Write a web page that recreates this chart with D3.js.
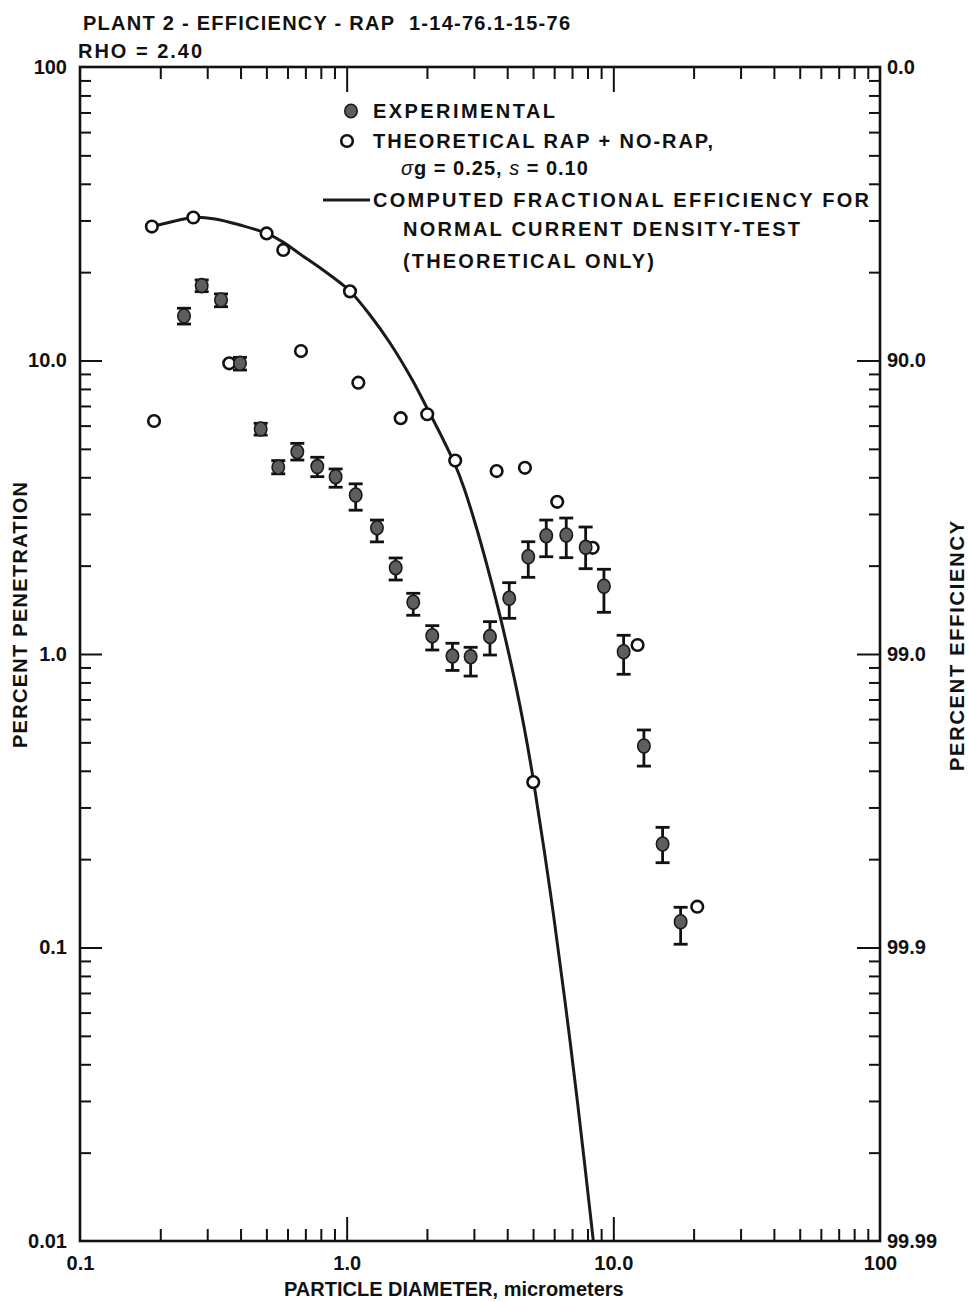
<!DOCTYPE html>
<html>
<head>
<meta charset="utf-8">
<script src="https://cdn.jsdelivr.net/npm/d3@7/dist/d3.min.js"></script>
<style>
  html, body { margin: 0; padding: 0; background: #fff; }
  svg { display: block; }
  text { font-family: "Liberation Sans", Arial, Helvetica, sans-serif; fill: #111; }
  .tick line { stroke: #111; stroke-width: 2; }
  .tick text { font-size: 20px; font-weight: bold; }
</style>
</head>
<body>
<svg id="chart" width="968" height="1302"></svg>
<script>
// Experimental fractional penetration with error limits (percent)
const expDiam = [0.2455, 0.2860, 0.3379, 0.398, 0.4759, 0.554, 0.653, 0.776, 0.909, 1.081,
                 1.299, 1.527, 1.777, 2.094, 2.493, 2.917, 3.446, 4.07, 4.797, 5.603,
                 6.66, 7.873, 9.22, 10.93, 13.02, 15.30, 17.88];
const expPen  = [14.18, 17.99, 16.08, 9.78, 5.84, 4.33, 4.89, 4.35, 4.02, 3.48,
                 2.69, 1.968, 1.50, 1.154, 0.984, 0.979, 1.146, 1.548, 2.145, 2.53,
                 2.544, 2.309, 1.701, 1.018, 0.486, 0.2253, 0.1224];
const expHigh = [15.07, 18.81, 16.86, 10.25, 6.11, 4.56, 5.22, 4.68, 4.27, 3.80,
                 2.86, 2.124, 1.61, 1.249, 1.088, 1.054, 1.289, 1.750, 2.413, 2.86,
                 2.906, 2.708, 1.944, 1.158, 0.551, 0.2567, 0.1371];
const expLow  = [13.31, 17.16, 15.25, 9.28, 5.57, 4.11, 4.58, 4.02, 3.70, 3.09,
                 2.41, 1.787, 1.355, 1.032, 0.879, 0.841, 0.992, 1.323, 1.825, 2.145,
                 2.129, 1.953, 1.387, 0.853, 0.415, 0.1945, 0.1026];

// Theoretical RAP + NO-RAP penetration (percent)
const theoDiam = [0.186, 0.266, 0.501, 0.5785, 1.029, 0.1895, 0.3628, 0.674, 1.106, 1.594,
                  2.005, 2.553, 3.651, 4.661, 6.16, 8.365, 12.33, 20.64, 5.008];
const theoPen  = [28.6, 30.7, 27.1, 23.8, 17.2, 6.22, 9.78, 10.77, 8.40, 6.36,
                  6.56, 4.56, 4.20, 4.31, 3.30, 2.30, 1.073, 0.1377, 0.366];

// Computed fractional efficiency curve, normal current density test
const curveDiam = [0.1862, 0.2271, 0.2653, 0.3208, 0.3981, 0.5012, 0.5770, 0.6683, 0.8152, 0.9578,
                   1.0289, 1.2232, 1.4537, 1.7525, 2.000, 2.257, 2.548, 2.754, 3.081, 3.445,
                   3.693, 3.957, 4.313, 4.621, 4.994, 5.785, 6.583, 7.366, 8.414];
const curvePen  = [28.61, 29.88, 30.71, 30.35, 28.95, 27.13, 25.33, 23.06, 20.34, 18.23,
                   17.25, 14.29, 11.47, 8.662, 6.895, 5.569, 4.423, 3.681, 2.656, 1.840,
                   1.440, 1.106, 0.7773, 0.5680, 0.3799, 0.1575, 0.06594, 0.02886, 0.0100];

// Axis ticks and labels
const xLabelVals = [0.1, 1, 10, 100];
const xLabelText = ["0.1", "1.0", "10.0", "100"];
const xMajor = [1, 10];
const xMinor = [0.2, 0.3, 0.4, 0.5, 0.6, 0.7, 0.8, 0.9, 2, 3, 4, 5, 6, 7, 8, 9,
                20, 30, 40, 50, 60, 70, 80, 90];
const yLabelVals = [100, 10, 1, 0.1, 0.01];
const penText = ["100", "10.0", "1.0", "0.1", "0.01"];
const effText = ["0.0", "90.0", "99.0", "99.9", "99.99"];
const yMajor = [10, 1, 0.1];
const yMinor = [0.02, 0.03, 0.04, 0.05, 0.06, 0.07, 0.08, 0.09,
                0.2, 0.3, 0.4, 0.5, 0.6, 0.7, 0.8, 0.9,
                2, 3, 4, 5, 6, 7, 8, 9, 20, 30, 40, 50, 60, 70, 80, 90];

const svg = d3.select("#chart");
const L = 80, R = 880, T = 67, B = 1241;

const x = d3.scaleLog().domain([0.1, 100]).range([L, R]);
const y = d3.scaleLog().domain([0.01, 100]).range([B, T]);

const noDomain = g => g.select(".domain").remove();

// ---- axes ----
// bottom
svg.append("g").attr("transform", `translate(0,${B})`)
  .call(d3.axisBottom(x).tickValues(xMinor).tickSize(-12).tickFormat("")).call(noDomain);
svg.append("g").attr("transform", `translate(0,${B})`)
  .call(d3.axisBottom(x).tickValues(xMajor).tickSize(-24).tickFormat("")).call(noDomain);
svg.append("g").attr("transform", `translate(0,${B})`)
  .call(d3.axisBottom(x).tickValues(xLabelVals).tickSize(0).tickPadding(15)
    .tickFormat((d, i) => xLabelText[i])).call(noDomain);
// top
svg.append("g").attr("transform", `translate(0,${T})`)
  .call(d3.axisTop(x).tickValues(xMinor).tickSize(-12).tickFormat("")).call(noDomain);
svg.append("g").attr("transform", `translate(0,${T})`)
  .call(d3.axisTop(x).tickValues(xMajor).tickSize(-25).tickFormat("")).call(noDomain);
// left
svg.append("g").attr("transform", `translate(${L},0)`)
  .call(d3.axisLeft(y).tickValues(yMinor).tickSize(-11).tickFormat("")).call(noDomain);
svg.append("g").attr("transform", `translate(${L},0)`)
  .call(d3.axisLeft(y).tickValues(yMajor).tickSize(-22).tickFormat("")).call(noDomain);
svg.append("g").attr("transform", `translate(${L},0)`)
  .call(d3.axisLeft(y).tickValues(yLabelVals).tickSize(0).tickPadding(13)
    .tickFormat((d, i) => penText[i])).call(noDomain);
// right
svg.append("g").attr("transform", `translate(${R},0)`)
  .call(d3.axisRight(y).tickValues(yMinor).tickSize(-11).tickFormat("")).call(noDomain);
svg.append("g").attr("transform", `translate(${R},0)`)
  .call(d3.axisRight(y).tickValues(yMajor).tickSize(-23).tickFormat("")).call(noDomain);
svg.append("g").attr("transform", `translate(${R},0)`)
  .call(d3.axisRight(y).tickValues(yLabelVals).tickSize(0).tickPadding(7)
    .tickFormat((d, i) => effText[i])).call(noDomain);

// frame
svg.append("rect").attr("x", L).attr("y", T).attr("width", R - L).attr("height", B - T)
  .attr("fill", "none").attr("stroke", "#111").attr("stroke-width", 2.6);

// ---- computed curve ----
svg.append("defs").append("clipPath").attr("id", "plotArea")
  .append("rect").attr("x", L).attr("y", T).attr("width", R - L).attr("height", B - T);

const curvePts = curveDiam.map((d, i) => [d, curvePen[i]]);
svg.append("path")
  .datum(curvePts)
  .attr("clip-path", "url(#plotArea)")
  .attr("fill", "none")
  .attr("stroke", "#1a1a1a")
  .attr("stroke-width", 3)
  .attr("d", d3.line().x(d => x(d[0])).y(d => y(d[1])).curve(d3.curveCatmullRom.alpha(0.5)));

// ---- theoretical points ----
svg.append("g").selectAll("circle")
  .data(theoDiam.map((d, i) => [d, theoPen[i]]))
  .join("circle")
  .attr("cx", d => x(d[0])).attr("cy", d => y(d[1])).attr("r", 5.8)
  .attr("fill", "#fff").attr("stroke", "#111").attr("stroke-width", 2.6);

// ---- experimental points with error bars ----
const expData = expDiam.map((d, i) => ({ d, p: expPen[i], hi: expHigh[i], lo: expLow[i] }));
const eg = svg.append("g");
const bars = eg.selectAll("g.bar").data(expData).join("g").attr("class", "bar");
bars.append("line")
  .attr("x1", d => x(d.d)).attr("x2", d => x(d.d))
  .attr("y1", d => y(d.hi)).attr("y2", d => y(d.lo))
  .attr("stroke", "#111").attr("stroke-width", 2.8);
bars.append("line")
  .attr("x1", d => x(d.d) - 7).attr("x2", d => x(d.d) + 7)
  .attr("y1", d => y(d.hi)).attr("y2", d => y(d.hi))
  .attr("stroke", "#111").attr("stroke-width", 2.8);
bars.append("line")
  .attr("x1", d => x(d.d) - 7).attr("x2", d => x(d.d) + 7)
  .attr("y1", d => y(d.lo)).attr("y2", d => y(d.lo))
  .attr("stroke", "#111").attr("stroke-width", 2.8);
bars.append("ellipse")
  .attr("cx", d => x(d.d)).attr("cy", d => y(d.p)).attr("rx", 6.2).attr("ry", 7)
  .attr("fill", "#5e5e5e").attr("stroke", "#1a1a1a").attr("stroke-width", 1.6);

// ---- legend ----
const lg = svg.append("g");
lg.append("ellipse").attr("cx", 351).attr("cy", 111).attr("rx", 6.2).attr("ry", 6.8)
  .attr("fill", "#5e5e5e").attr("stroke", "#1a1a1a").attr("stroke-width", 1.6);
lg.append("circle").attr("cx", 347).attr("cy", 141).attr("r", 5.8)
  .attr("fill", "#fff").attr("stroke", "#111").attr("stroke-width", 2.6);
lg.append("line").attr("x1", 323).attr("x2", 370).attr("y1", 200).attr("y2", 200)
  .attr("stroke", "#1a1a1a").attr("stroke-width", 3);

function label(parent, txt, xx, yy, len, size) {
  const t = parent.append("text").attr("x", xx).attr("y", yy)
    .attr("font-size", size || 20).attr("font-weight", "bold").text(txt);
  if (len) t.attr("textLength", len).attr("lengthAdjust", "spacing");
  return t;
}
label(lg, "EXPERIMENTAL", 373, 118, 182);
label(lg, "THEORETICAL RAP + NO-RAP,", 373, 148, 340);
const sg = lg.append("text").attr("x", 401).attr("y", 175).attr("font-size", 20)
  .attr("font-weight", "bold").attr("letter-spacing", 1);
sg.append("tspan").attr("font-style", "italic").attr("font-weight", "normal").text("σ");
sg.append("tspan").text("g = 0.25, ");
sg.append("tspan").attr("font-style", "italic").attr("font-weight", "normal").text("s");
sg.append("tspan").text(" = 0.10");
label(lg, "COMPUTED FRACTIONAL EFFICIENCY FOR", 373, 207, 496);
label(lg, "NORMAL CURRENT DENSITY-TEST", 403, 236, 397);
label(lg, "(THEORETICAL ONLY)", 403, 268, 251);

// ---- titles ----
label(svg, "PLANT 2 - EFFICIENCY - RAP\u00a0\u00a01-14-76.1-15-76", 83, 30, 487);
label(svg, "RHO = 2.40", 78, 58, 124);

const xt = svg.append("text").attr("x", 284).attr("y", 1296)
  .attr("font-size", 20).attr("font-weight", "bold");
xt.append("tspan").text("PARTICLE DIAMETER, ");
xt.append("tspan").text("micrometers");

svg.append("text").attr("transform", "translate(27,615) rotate(-90)")
  .attr("text-anchor", "middle").attr("font-size", 20).attr("font-weight", "bold")
  .attr("textLength", 266).attr("lengthAdjust", "spacing")
  .text("PERCENT PENETRATION");
svg.append("text").attr("transform", "translate(964,646) rotate(-90)")
  .attr("text-anchor", "middle").attr("font-size", 20).attr("font-weight", "bold")
  .attr("textLength", 250).attr("lengthAdjust", "spacing")
  .text("PERCENT EFFICIENCY");
</script>
</body>
</html>
